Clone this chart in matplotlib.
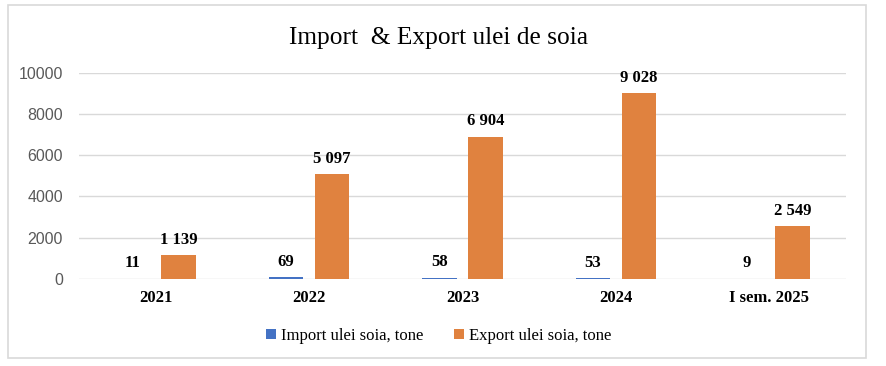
import numpy as np
from matplotlib import pyplot as plt
from matplotlib.patches import Rectangle

categories = ['2021', '2022', '2023', '2024', 'I sem. 2025']
import_vals = [11, 69, 58, 53, 9]
export_vals = [1139, 5097, 6904, 9028, 2549]
import_labels = ['11', '69', '58', '53', '9']
export_labels = ['1 139', '5 097', '6 904', '9 028', '2 549']

blue = '#4472C4'
orange = '#E0823F'
grid_col = '#D9D9D9'
serif = ['Liberation Serif', 'DejaVu Serif']

fig = plt.figure(figsize=(8.86, 3.66), dpi=100)
ax = fig.add_axes([0.089, 0.238, 0.866, 0.563])

# outer chart border
fig.patches.append(Rectangle((8/886, 1 - 358/366), 858/886, 353/366,
                             transform=fig.transFigure, fill=False,
                             edgecolor=grid_col, linewidth=1.2))

x = np.arange(len(categories))
w = 0.225
off = 0.15
b1 = ax.bar(x - off, import_vals, w, color=blue, label='Import ulei soia, tone')
b2 = ax.bar(x + off, export_vals, w, color=orange, label='Export ulei soia, tone')

for xi, v, lab in zip(x - off, import_vals, import_labels):
    ax.text(xi, v + 350, lab, ha='center', va='bottom', fontsize=12,
            fontweight='bold', family=serif)
for xi, v, lab in zip(x + off, export_vals, export_labels):
    ax.text(xi, v + 350, lab, ha='center', va='bottom', fontsize=12,
            fontweight='bold', family=serif)

ax.set_xlim(-0.5, len(categories) - 0.5)
ax.set_ylim(0, 10000)
ax.set_yticks(range(0, 10001, 2000))
ax.set_xticks(x)
ax.set_xticklabels(categories, fontsize=12, fontweight='bold', family=serif)
ax.tick_params(axis='y', labelsize=11.5, colors='#595959', length=0, pad=11.5)
ax.tick_params(axis='x', length=0, pad=8)
for lab in ax.get_yticklabels():
    lab.set_family(['Liberation Sans', 'DejaVu Sans'])
ax.grid(axis='y', color=grid_col, linewidth=1)
ax.set_axisbelow(True)
for s in ax.spines.values():
    s.set_visible(False)

fig.text(0.495, 0.896, 'Import  & Export ulei de soia', ha='center', va='center',
         fontsize=18.3, family=serif)

fig.legend(handles=[b1, b2], loc='center', bbox_to_anchor=(0.495, 0.082), ncol=2,
           frameon=False, prop={'family': serif, 'size': 12},
           handlelength=0.6, handleheight=0.6, handletextpad=0.3, columnspacing=1.8)

plt.savefig('out.png', dpi=100)
